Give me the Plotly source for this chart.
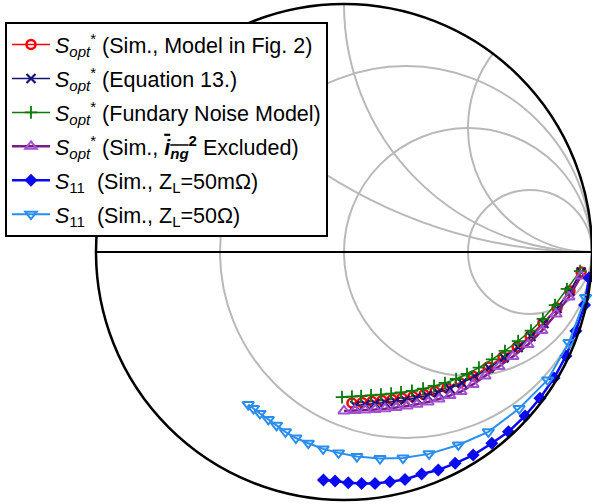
import numpy as np
import plotly.graph_objects as go

model_re = [0.032, 0.073, 0.113, 0.153, 0.194, 0.234, 0.278, 0.323, 0.367, 0.415,
            0.468, 0.520, 0.581, 0.641, 0.698, 0.750, 0.802, 0.859, 0.911, 0.956]
model_im = [-0.609, -0.607, -0.603, -0.599, -0.595, -0.589, -0.583, -0.575, -0.563, -0.548,
            -0.527, -0.500, -0.464, -0.423, -0.383, -0.339, -0.286, -0.226, -0.157, -0.081]

eq13_re = [0.044, 0.085, 0.125, 0.165, 0.206, 0.246, 0.290, 0.335, 0.379, 0.427,
           0.476, 0.528, 0.585, 0.645, 0.702, 0.754, 0.806, 0.859, 0.911, 0.956]
eq13_im = [-0.619, -0.615, -0.611, -0.607, -0.603, -0.597, -0.589, -0.579, -0.567, -0.551,
           -0.528, -0.502, -0.468, -0.427, -0.385, -0.341, -0.288, -0.228, -0.158, -0.081]

fund_re = [-0.008, 0.032, 0.069, 0.109, 0.149, 0.190, 0.230, 0.274, 0.319, 0.363, 0.407,
           0.452, 0.496, 0.544, 0.597, 0.649, 0.702, 0.754, 0.802, 0.851, 0.899, 0.952]
fund_im = [-0.585, -0.583, -0.581, -0.578, -0.575, -0.571, -0.566, -0.560, -0.551, -0.540, -0.528,
           -0.512, -0.492, -0.466, -0.433, -0.399, -0.359, -0.317, -0.270, -0.214, -0.149, -0.077]

excl_re = [0.000, 0.044, 0.085, 0.125, 0.165, 0.210, 0.254, 0.294, 0.339, 0.383, 0.427,
           0.472, 0.520, 0.569, 0.625, 0.681, 0.742, 0.798, 0.855, 0.907, 0.956]
excl_im = [-0.641, -0.639, -0.637, -0.635, -0.632, -0.627, -0.621, -0.614, -0.605, -0.593, -0.579,
           -0.563, -0.534, -0.500, -0.462, -0.421, -0.373, -0.317, -0.250, -0.181, -0.097]

s11_mohm_re = [-0.083, -0.036, 0.017, 0.071, 0.125, 0.185, 0.246, 0.313, 0.380, 0.448,
               0.521, 0.596, 0.663, 0.730, 0.790, 0.847, 0.895, 0.935, 0.970, 0.988]
s11_mohm_im = [-0.919, -0.923, -0.930, -0.933, -0.933, -0.926, -0.917, -0.895, -0.879, -0.852,
               -0.819, -0.771, -0.725, -0.661, -0.590, -0.508, -0.419, -0.319, -0.214, -0.105]

s11_50_re = [-0.386, -0.365, -0.339, -0.305, -0.272, -0.236, -0.194, -0.144, -0.084, -0.022,
             0.052, 0.145, 0.238, 0.343, 0.461, 0.582, 0.706, 0.821, 0.907, 0.974]
s11_50_im = [-0.615, -0.631, -0.651, -0.675, -0.699, -0.725, -0.750, -0.771, -0.794, -0.810,
             -0.825, -0.833, -0.831, -0.814, -0.778, -0.725, -0.631, -0.516, -0.365, -0.183]

# constant-resistance circles and constant-reactance arcs of the grid
# (a very large value is added so the other family of lines runs all the way to the right end)
r_grid = [1 / 3, 1, 3, 1e5]
x_grid = [0.5, 1, 2, 1e5]

ing = ("<span style='text-decoration:overline'><b><i>i</i></b><sub><b><i>ng</i></b></sub></span>"
       "<sup><b>2</b></sup>")
names = [
    "<i>S</i><sub><i>opt</i></sub><sup>*</sup> (Sim., Model in Fig. 2)",
    "<i>S</i><sub><i>opt</i></sub><sup>*</sup> (Equation 13.)",
    "<i>S</i><sub><i>opt</i></sub><sup>*</sup> (Fundary Noise Model)",
    "<i>S</i><sub><i>opt</i></sub><sup>*</sup> (Sim., " + ing + " Excluded)",
    "<i>S</i><sub>11</sub>\u00a0 (Sim., Z<sub>L</sub>=50mΩ)",
    "<i>S</i><sub>11</sub>\u00a0 (Sim., Z<sub>L</sub>=50Ω)",
]


def to_z(re, im):
    g = np.array(re) + 1j * np.array(im)
    z = (1 + g) / (1 - g)
    return z.real, z.imag


series = [
    (model_re, model_im, dict(color="#ff0000", width=1.5),
     dict(symbol="circle-open", size=9, color="#ff0000", line=dict(width=2.5))),
    (eq13_re, eq13_im, dict(color="#14147a", width=1.5),
     dict(symbol="x-thin-open", size=9, color="#14147a", line=dict(width=2.2))),
    (fund_re, fund_im, dict(color="#0a7a0a", width=1.5),
     dict(symbol="cross-thin-open", size=9, color="#0a7a0a", line=dict(width=1.8))),
    (excl_re, excl_im, dict(color="#7a1a86", width=2.5),
     dict(symbol="triangle-up-open", size=10, color="#a450d2", line=dict(width=2))),
    (s11_mohm_re, s11_mohm_im, dict(color="#0a0af0", width=2.5),
     dict(symbol="diamond", size=10, color="#0a0af0")),
    (s11_50_re, s11_50_im, dict(color="#2a8ef0", width=2),
     dict(symbol="triangle-down-open", size=10, color="#2a8ef0", line=dict(width=2))),
]

fig = go.Figure()
for i, (re, im, ln, mk) in enumerate(series):
    zr, zi = to_z(re, im)
    fig.add_trace(go.Scattersmith(real=zr, imag=zi, mode="lines+markers", name=names[i],
                                  line=ln, marker=mk, legendgroup=f"g{i}"))

fig.update_layout(
    width=592, height=504,
    margin=dict(l=0, r=0, t=0, b=0),
    paper_bgcolor="white",
    font=dict(family="Liberation Sans, Arial, sans-serif", size=21.5, color="black"),
    smith=dict(
        domain=dict(x=[96 / 592, 1.0], y=[4 / 504, 500 / 504]),
        bgcolor="white",
        realaxis=dict(tickvals=r_grid, showticklabels=False, ticks="", gridcolor="#b9b9b9",
                      gridwidth=2, linecolor="black", linewidth=2, showline=True),
        imaginaryaxis=dict(tickvals=x_grid, showticklabels=False, ticks="", gridcolor="#b9b9b9",
                           gridwidth=2, linecolor="black", linewidth=2.5, showline=True),
    ),
    legend=dict(x=5 / 592, y=1 - 22 / 504, xanchor="left", yanchor="top",
                bgcolor="white", bordercolor="black", borderwidth=2, itemwidth=38,
                tracegroupgap=3, font=dict(size=21.5, color="black")),
    showlegend=True,
)

fig.write_html("out.html", config={"displayModeBar": False},
               post_script="document.body.style.margin='0px';")
